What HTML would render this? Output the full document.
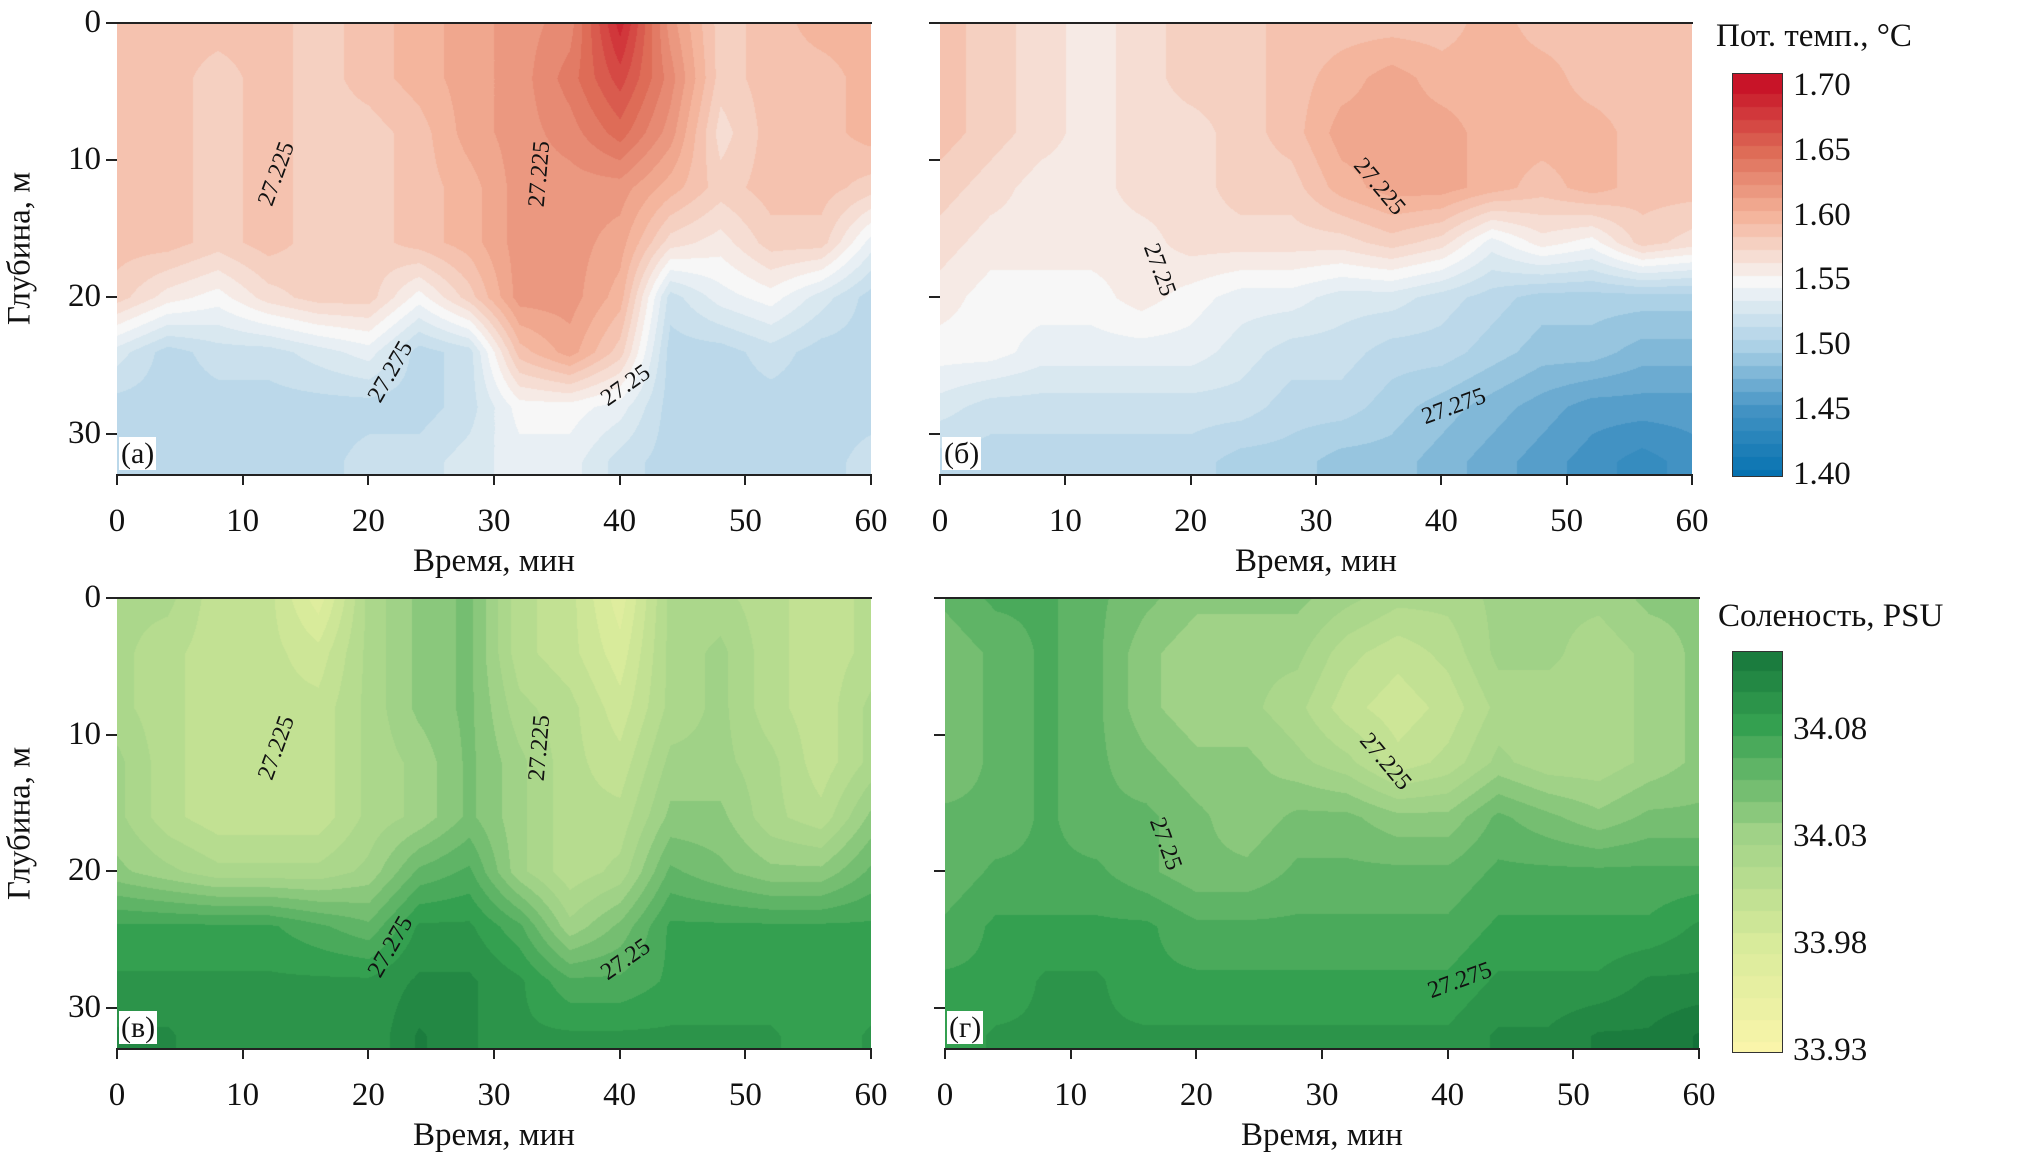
<!DOCTYPE html>
<html><head><meta charset="utf-8">
<style>
body{margin:0;background:#fff;}
#root{position:relative;width:2018px;height:1164px;overflow:hidden;font-family:"Liberation Serif",serif;color:#111;}
canvas{position:absolute;}
.t{position:absolute;font-size:33px;line-height:1;white-space:nowrap;}
.tick{position:absolute;background:#222;}
.frame{position:absolute;border:2px solid #222;box-sizing:border-box;}
.pl{position:absolute;background:#fff;font-size:30px;padding:0 2px;line-height:1.1;}
.cl{position:absolute;font-size:24px;white-space:nowrap;background:transparent;}
</style></head><body>
<div id="root"></div>
<script>
const times=[0,4,8,12,16,20,24,28,32,36,40,44,48,52,56,60];
const depths=[0,4,8,12,16,20,24,28,32];
const xTicks=[0,10,20,30,40,50,60];
const yTicks=[0,10,20,30];
const tempTicks=[1.40,1.45,1.50,1.55,1.60,1.65,1.70];
const salTicks=[33.93,33.98,34.03,34.08];
const tempA=[
[1.59,1.59,1.59,1.59,1.58,1.59,1.60,1.61,1.62,1.63,1.69,1.62,1.58,1.59,1.60,1.60],
[1.59,1.59,1.58,1.59,1.58,1.59,1.60,1.61,1.62,1.64,1.67,1.63,1.58,1.59,1.59,1.60],
[1.59,1.59,1.58,1.59,1.58,1.58,1.59,1.61,1.62,1.63,1.65,1.62,1.57,1.59,1.59,1.60],
[1.59,1.59,1.58,1.59,1.58,1.58,1.59,1.60,1.62,1.62,1.62,1.60,1.58,1.59,1.59,1.58],
[1.59,1.59,1.58,1.59,1.58,1.58,1.59,1.60,1.62,1.62,1.61,1.57,1.56,1.58,1.58,1.54],
[1.58,1.56,1.55,1.57,1.58,1.58,1.55,1.58,1.62,1.62,1.60,1.52,1.54,1.55,1.53,1.51],
[1.53,1.51,1.52,1.52,1.53,1.54,1.51,1.52,1.59,1.61,1.58,1.51,1.51,1.52,1.51,1.51],
[1.51,1.51,1.51,1.51,1.51,1.51,1.51,1.52,1.55,1.55,1.54,1.51,1.51,1.51,1.51,1.51],
[1.51,1.51,1.51,1.51,1.51,1.52,1.52,1.53,1.54,1.54,1.52,1.51,1.51,1.51,1.51,1.52]];
const tempB=[
[1.59,1.58,1.57,1.56,1.57,1.58,1.58,1.59,1.59,1.59,1.59,1.60,1.59,1.59,1.59,1.59],
[1.59,1.58,1.57,1.56,1.57,1.58,1.58,1.59,1.60,1.61,1.60,1.60,1.60,1.59,1.59,1.59],
[1.59,1.58,1.57,1.56,1.57,1.57,1.58,1.59,1.61,1.61,1.61,1.60,1.60,1.60,1.59,1.59],
[1.58,1.57,1.56,1.56,1.57,1.57,1.58,1.58,1.60,1.61,1.61,1.60,1.59,1.60,1.59,1.59],
[1.57,1.56,1.56,1.56,1.56,1.57,1.57,1.57,1.57,1.58,1.57,1.54,1.56,1.55,1.58,1.57],
[1.56,1.55,1.55,1.55,1.56,1.55,1.54,1.54,1.53,1.53,1.52,1.51,1.50,1.50,1.50,1.50],
[1.55,1.55,1.54,1.54,1.54,1.54,1.53,1.52,1.52,1.51,1.51,1.50,1.49,1.49,1.48,1.48],
[1.53,1.52,1.52,1.52,1.52,1.52,1.52,1.51,1.51,1.50,1.49,1.48,1.47,1.46,1.46,1.46],
[1.51,1.51,1.51,1.51,1.51,1.51,1.50,1.50,1.49,1.49,1.48,1.47,1.46,1.45,1.44,1.45]];
const salC=[
[34.02,34.02,34.00,34.00,33.97,34.02,34.04,34.05,34.01,34.00,33.97,34.02,34.02,34.01,34.00,34.01],
[34.02,34.01,34.00,34.00,33.99,34.02,34.04,34.05,34.01,34.00,33.98,34.02,34.03,34.01,34.00,34.01],
[34.02,34.01,34.00,34.00,34.00,34.02,34.04,34.05,34.02,34.01,33.99,34.02,34.03,34.01,34.00,34.02],
[34.03,34.01,34.00,34.00,34.00,34.02,34.03,34.05,34.03,34.01,34.00,34.03,34.03,34.02,34.00,34.02],
[34.03,34.01,34.00,34.00,34.00,34.02,34.03,34.05,34.03,34.01,34.01,34.04,34.04,34.02,34.01,34.04],
[34.04,34.03,34.02,34.02,34.02,34.03,34.06,34.07,34.03,34.01,34.02,34.06,34.05,34.04,34.04,34.06],
[34.08,34.08,34.08,34.08,34.07,34.06,34.09,34.09,34.07,34.03,34.05,34.08,34.08,34.08,34.08,34.08],
[34.09,34.09,34.09,34.09,34.09,34.09,34.10,34.10,34.09,34.07,34.07,34.08,34.08,34.08,34.08,34.08],
[34.10,34.10,34.09,34.09,34.09,34.09,34.11,34.10,34.09,34.09,34.09,34.09,34.09,34.09,34.08,34.09]];
const salD=[
[34.06,34.07,34.07,34.06,34.05,34.04,34.04,34.04,34.03,34.02,34.02,34.03,34.03,34.03,34.04,34.04],
[34.05,34.06,34.07,34.06,34.04,34.03,34.03,34.03,34.01,34.00,34.01,34.03,34.03,34.02,34.03,34.04],
[34.05,34.06,34.07,34.06,34.04,34.03,34.03,34.02,34.00,33.99,34.00,34.02,34.02,34.02,34.03,34.04],
[34.05,34.06,34.07,34.06,34.05,34.04,34.04,34.03,34.02,34.00,34.01,34.03,34.02,34.02,34.03,34.04],
[34.06,34.06,34.07,34.06,34.06,34.05,34.04,34.05,34.05,34.04,34.04,34.06,34.05,34.04,34.05,34.05],
[34.06,34.07,34.07,34.07,34.06,34.05,34.05,34.06,34.06,34.06,34.06,34.07,34.07,34.07,34.07,34.07],
[34.07,34.08,34.08,34.08,34.08,34.07,34.07,34.07,34.07,34.07,34.07,34.08,34.08,34.08,34.08,34.09],
[34.08,34.08,34.09,34.09,34.08,34.08,34.08,34.08,34.08,34.08,34.08,34.09,34.09,34.09,34.10,34.10],
[34.08,34.09,34.09,34.09,34.09,34.09,34.09,34.09,34.09,34.09,34.09,34.10,34.10,34.11,34.11,34.12]];

const rdbu=[[0,[5,113,176]],[0.17,[67,147,195]],[0.33,[170,208,230]],[0.5,[247,247,247]],[0.67,[244,180,155]],[0.83,[222,110,88]],[1,[200,20,40]]];
const ylgn=[[0,[250,245,170]],[0.25,[216,235,155]],[0.5,[160,210,135]],[0.75,[52,160,80]],[1,[10,100,50]]];
function cmap(stops,f){f=Math.max(0,Math.min(1,f));for(let i=1;i<stops.length;i++){if(f<=stops[i][0]){const a=stops[i-1],b=stops[i];const u=(f-a[0])/(b[0]-a[0]);return a[1].map((c,k)=>c+(b[1][k]-c)*u);}}return stops[stops.length-1][1];}
const root=document.getElementById('root');
function el(tag,cls,style,txt){const e=document.createElement(tag);if(cls)e.className=cls;Object.assign(e.style,style);if(txt!=null)e.textContent=txt;root.appendChild(e);return e;}

function panel(p){
  const W=p.x1-p.x0,H=p.y1-p.y0;
  const xs=t=>p.x0+t/60*W, ys=d=>p.y0+d/33*H;
  const cv=el('canvas','',{left:p.x0+'px',top:p.y0+'px'});
  
  
  cv.width=W;cv.height=H;
  const ctx=cv.getContext('2d');const img=ctx.createImageData(W,H);
  const g=p.grid;
  for(let py=0;py<H;py++){
    const d=py/H*33;let r=Math.min(depths.length-2,Math.floor(d/4));let v=Math.min(1,(d-depths[r])/4);
    for(let px=0;px<W;px++){
      const t=px/W*60;let c=Math.min(times.length-2,Math.floor(t/4));let u=(t-times[c])/4;
      const val=g[r][c]*(1-u)*(1-v)+g[r][c+1]*u*(1-v)+g[r+1][c]*(1-u)*v+g[r+1][c+1]*u*v;
      let f=(val-p.vmin)/(p.vmax-p.vmin);f=Math.round(f*p.levels)/p.levels;
      const col=cmap(p.cm,f);const i=(py*W+px)*4;
      img.data[i]=col[0];img.data[i+1]=col[1];img.data[i+2]=col[2];img.data[i+3]=255;
    }
  }
  ctx.putImageData(img,0,0);
  const fr=el('div','frame',{left:(p.x0-1)+'px',top:(p.y0-1)+'px',width:(W+2)+'px',height:(H+2)+'px',border:'none',borderTop:'2px solid #222',borderBottom:'2px solid #222'});
  
  
  xTicks.forEach(t=>{
    const tk=el('div','tick',{left:(xs(t)-1)+'px',top:p.y1+'px',width:'2px',height:'10px'});
    
    
    const lb=el('div','t',{left:(xs(t)-40)+'px',width:'80px',textAlign:'center',top:(p.y1+30)+'px'},String(t));
    
    
  });
  yTicks.forEach(d=>{
    const tk=el('div','tick',{left:(p.x0-11)+'px',top:(ys(d)-1)+'px',width:'11px',height:'2px'});
    
    
    if(p.ylabels){const lb=el('div','t',{left:(p.x0-80)+'px',width:'64px',textAlign:'right',top:(ys(d)-17)+'px'},String(d));
    
    }
  });
  const xl=el('div','t',{left:(p.x0+W/2-150)+'px',width:'300px',textAlign:'center',top:(p.y1+70)+'px'},'Время, мин');
  
  
  if(p.ylabels){const yl=el('div','t',{left:(-80)+'px',width:'200px',textAlign:'center',top:(p.y0+H/2-17)+'px',transform:'rotate(-90deg)'},'Глубина, м');
  
  }
  const pl=el('div','pl',{left:(p.x0+2)+'px',top:(p.y1-38)+'px'},p.label);
  
  
  p.clabels.forEach(c=>{
    const e=el('div','cl',{left:xs(c[1])+'px',top:ys(c[2])+'px',transform:'translate(-50%,-50%) rotate('+c[3]+'deg)'},c[0]);
    
    
  });
}
panel({name:'temp-a',x0:117,x1:871,y0:23,y1:475,grid:tempA,vmin:1.40,vmax:1.70,cm:rdbu,levels:30,ylabels:true,label:'(а)',
 clabels:[['27.225',12.7,11,-70],['27.225',33.7,11,-85],['27.275',21.8,25.5,-60],['27.25',40.5,26.5,-35]]});
panel({name:'temp-b',x0:940,x1:1692,y0:23,y1:475,grid:tempB,vmin:1.40,vmax:1.70,cm:rdbu,levels:30,ylabels:false,label:'(б)',
 clabels:[['27.225',35,12,50],['27.25',17.5,18,70],['27.275',41,28,-20]]});
panel({name:'sal-c',x0:117,x1:871,y0:598,y1:1049,grid:salC,vmin:33.93,vmax:34.134,cm:ylgn,levels:20,ylabels:true,label:'(в)',
 clabels:[['27.225',12.7,11,-70],['27.225',33.7,11,-85],['27.275',21.8,25.5,-60],['27.25',40.5,26.5,-35]]});
panel({name:'sal-d',x0:945,x1:1699,y0:598,y1:1049,grid:salD,vmin:33.93,vmax:34.134,cm:ylgn,levels:20,ylabels:false,label:'(г)',
 clabels:[['27.225',35,12,50],['27.25',17.5,18,70],['27.275',41,28,-20]]});

function cbar(c){
  const cv=el('canvas','',{left:c.x0+'px',top:c.y0+'px',border:'1px solid #333'});
  
  
  const W=c.x1-c.x0,H=c.y1-c.y0;cv.width=W;cv.height=H;const ctx=cv.getContext('2d');
  for(let py=0;py<H;py++){const val=c.vtop-(py/H)*(c.vtop-c.vbot);let f=(val-c.vmin)/(c.vmax-c.vmin);f=Math.round(f*c.levels)/c.levels;const col=cmap(c.cm,f);ctx.fillStyle='rgb('+col.map(Math.round).join(',')+')';ctx.fillRect(0,py,W,1);}
  c.ticks.forEach(v=>{const y=c.y0+(c.vtop-v)/(c.vtop-c.vbot)*H;
    const lb=el('div','t',{left:(c.x1+12)+'px',top:(y-17)+'px'},v.toFixed(2));
    
    });
  const tt=el('div','t',{left:c.tx+'px',top:c.ty+'px'},c.title);
  
  
}
cbar({name:'temp-colorbar',x0:1732,x1:1781,y0:73,y1:475,vtop:1.71,vbot:1.40,vmin:1.40,vmax:1.70,cm:rdbu,levels:30,ticks:tempTicks,title:'Пот. темп., °C',tx:1716,ty:20});
cbar({name:'salinity-colorbar',x0:1732,x1:1781,y0:651,y1:1051,vtop:34.117,vbot:33.93,vmin:33.93,vmax:34.134,cm:ylgn,levels:20,ticks:salTicks,title:'Соленость, PSU',tx:1718,ty:600});
</script>
</body></html>
